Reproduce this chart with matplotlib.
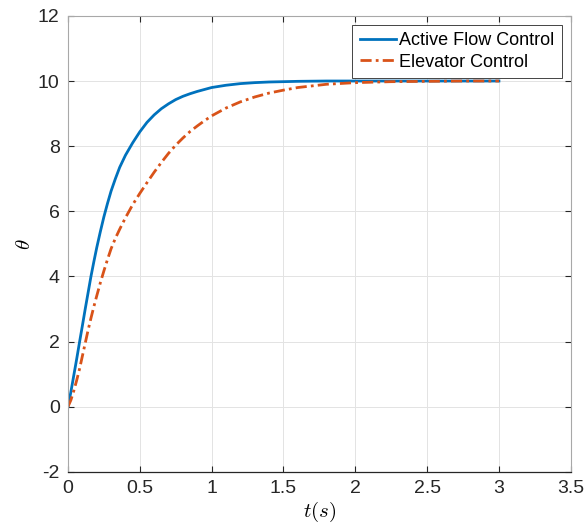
import matplotlib
matplotlib.use("Agg")
import matplotlib.pyplot as plt

t = [0, 0.02, 0.04, 0.06, 0.08, 0.1, 0.12, 0.14, 0.16, 0.18, 0.2, 0.225,
     0.25, 0.275, 0.3, 0.33, 0.36, 0.4, 0.45, 0.5, 0.55, 0.6, 0.65, 0.7,
     0.75, 0.8, 0.85, 0.9, 0.95, 1.0, 1.1, 1.2, 1.3, 1.4, 1.5, 1.6, 1.8,
     2.0, 2.25, 2.5, 2.75, 3.0]
theta_afc = [0, 0.45, 0.95, 1.45, 1.97, 2.48, 3.0, 3.5, 4.0, 4.45, 4.88, 5.37,
             5.83, 6.24, 6.62, 7.0, 7.35, 7.72, 8.1, 8.44, 8.73, 8.96, 9.15,
             9.3, 9.43, 9.53, 9.61, 9.68, 9.74, 9.8, 9.87, 9.92, 9.95, 9.97,
             9.98, 9.99, 10.0, 10.0, 10.0, 10.0, 10.0, 10.0]
theta_elev = [0, 0.2, 0.48, 0.8, 1.15, 1.55, 1.95, 2.35, 2.72, 3.07, 3.4, 3.8,
              4.17, 4.52, 4.85, 5.17, 5.45, 5.8, 6.2, 6.55, 6.88, 7.2, 7.5,
              7.78, 8.03, 8.25, 8.45, 8.62, 8.78, 8.93, 9.17, 9.36, 9.51, 9.63,
              9.72, 9.8, 9.9, 9.95, 9.98, 9.99, 10.0, 10.0]
labels = ["Active Flow Control", "Elevator Control"]
x_ticks = [0, 0.5, 1, 1.5, 2, 2.5, 3, 3.5]
y_ticks = [-2, 0, 2, 4, 6, 8, 10, 12]

plt.rcParams["font.family"] = ["Liberation Sans", "DejaVu Sans"]
plt.rcParams["mathtext.fontset"] = "cm"

fig = plt.figure(figsize=(5.86, 5.29), dpi=100)
ax = fig.add_axes([0.116, 0.108, 0.858, 0.862])

ax.plot(t, theta_afc, color="#0072BD", lw=2.0, label=labels[0])
ax.plot(t, theta_elev, color="#D95319", lw=2.0, ls=(0, (4, 1.5, 1, 1.5)),
        label=labels[1])

ax.set_xlim(0, 3.5)
ax.set_ylim(-2, 12)
ax.set_xticks(x_ticks)
ax.set_xticklabels(["%g" % v for v in x_ticks])
ax.set_yticks(y_ticks)
ax.set_yticklabels(["%g" % v for v in y_ticks])
ax.tick_params(direction="in", length=4, width=0.8, labelsize=14,
               top=True, right=True, colors="#262626", pad=6)
ax.grid(True, color="#e3e3e3", lw=0.7)
ax.set_axisbelow(True)

for side in ["left", "top", "right"]:
    ax.spines[side].set_color("#a8a8a8")
    ax.spines[side].set_linewidth(0.8)
ax.spines["bottom"].set_color("#262626")
ax.spines["bottom"].set_linewidth(0.9)

ax.set_xlabel(r"$t(s)$", fontsize=15, labelpad=2)
ax.set_ylabel(r"$\theta$", fontsize=15, labelpad=3)

leg = ax.legend(loc="upper right", fontsize=13, fancybox=False,
                edgecolor="#262626", framealpha=1, borderpad=0.4,
                handlelength=2.0, handletextpad=0.2, labelspacing=0.25,
                borderaxespad=0.5)
leg.get_frame().set_linewidth(0.6)

fig.savefig("out.png", dpi=100)
